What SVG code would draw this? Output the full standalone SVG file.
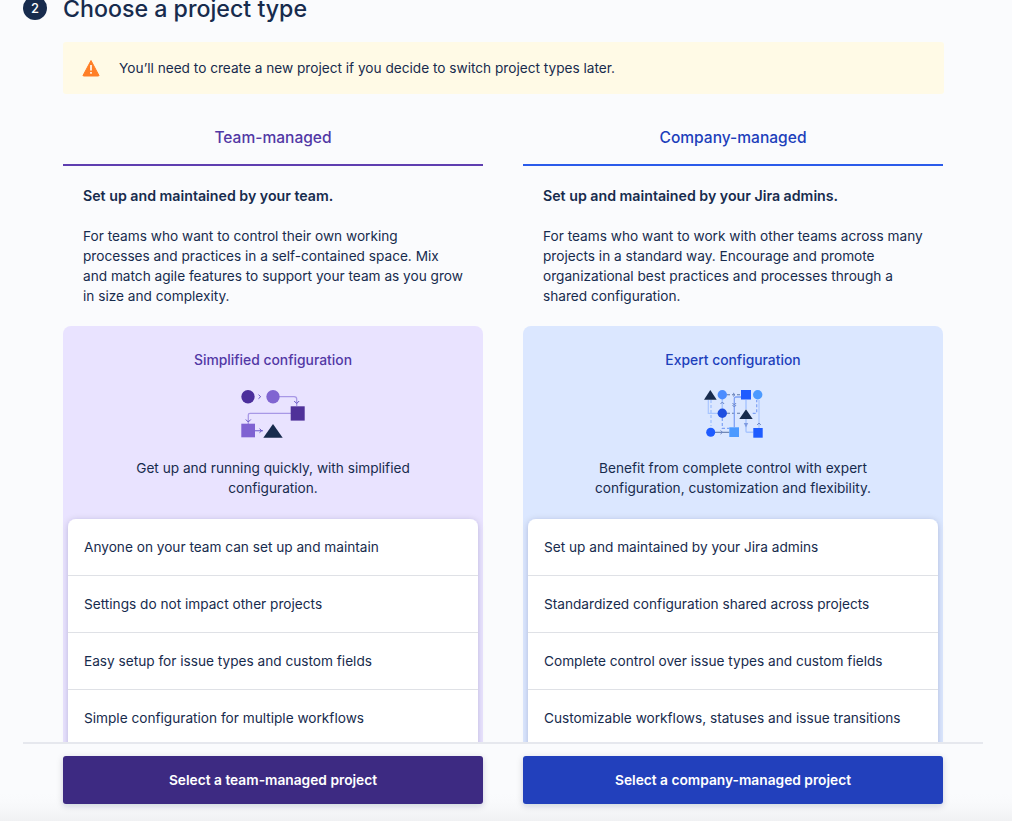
<svg xmlns="http://www.w3.org/2000/svg" width="1012" height="821" viewBox="0 0 1012 821">
<style>
text{font-family:Inter,"Liberation Sans",sans-serif;fill:#172B4D;font-size:13.65px}
.c{text-anchor:middle}
.b{font-weight:600;font-size:14.2px}
.sep{stroke:#DFE1E6;stroke-width:1}
.tm{fill:#5238A5}
.cm{fill:#1D3FBB}
.tab{font-size:15.55px;font-weight:500}
.cfg{font-size:13.87px;font-weight:500}
.btn{fill:#fff;font-weight:600;text-anchor:middle;font-size:13.75px}
.dash{stroke-dasharray:3 2}
</style>
<defs>
<linearGradient id="fade" x1="0" y1="0" x2="0" y2="1"><stop offset="0" stop-color="#FAFBFD" stop-opacity="0"/><stop offset="1" stop-color="#F0F1F3"/></linearGradient>
<filter id="sh" x="-5%" y="-5%" width="110%" height="110%"><feDropShadow dx="0" dy="1" stdDeviation="3" flood-color="#091E42" flood-opacity=".2"/></filter>
<filter id="bs" x="-5%" y="-10%" width="110%" height="130%"><feDropShadow dx="0" dy="2" stdDeviation="3" flood-color="#091E42" flood-opacity=".18"/></filter>
<clipPath id="cut"><rect x="0" y="0" width="1012" height="743"/></clipPath>
</defs>
<rect width="1012" height="821" fill="#FAFBFD"/>
<rect y="790" width="1012" height="31" fill="url(#fade)"/>
<g id="heading">
<circle cx="35" cy="8" r="12" fill="#172B4D"/>
<text x="35" y="13" class="c" style="fill:#fff;font-size:13px;font-weight:500">2</text>
<text x="63" y="17" style="font-size:23.2px;font-weight:500">Choose a project type</text>
</g>
<g id="warning">
<rect x="63" y="42" width="881" height="52" rx="3" fill="#FFFAE6"/>
<path d="M91 60.500 L99 75.500 Q99 76 98 76 H84 Q83 76 83 75.500 Z" fill="#FF7F27" stroke="#FF7F27" stroke-linejoin="round"/>
<rect x="90.200" y="65" width="1.600" height="5.500" fill="#fff"/><rect x="90.200" y="72" width="1.600" height="1.700" fill="#fff"/>
<text x="119" y="73">You’ll need to create a new project if you decide to switch project types later.</text>
</g>
<g id="team-managed" clip-path="url(#cut)">
<text x="273" y="143" class="c tm tab">Team-managed</text>
<rect x="63" y="164" width="420" height="2" fill="#5E3EB0"/>
<text x="83" y="201" class="b">Set up and maintained by your team.</text>
<text x="83" y="241">For teams who want to control their own working</text>
<text x="83" y="261">processes and practices in a self-contained space. Mix</text>
<text x="83" y="281">and match agile features to support your team as you grow</text>
<text x="83" y="301">in size and complexity.</text>
<rect x="63" y="326" width="420" height="440" rx="8" fill="#E9E3FF"/>
<text x="273" y="365" class="c tm cfg">Simplified configuration</text>
<g id="team-icon" fill="none">
<path d="M279 396.700 H294 Q296.700 396.700 296.700 399 V406 M291 413.300 H250 Q248.300 413.300 248.300 415 V424" stroke="#A898E6" stroke-width="1.300"/>
<path d="M255 430.700 H263" stroke="#8777D9" stroke-width="1.300"/>
<path d="M258.500 394.700 l2.200 2 l-2.200 2 M294.200 401 l2.500 2.500 l2.500 -2.500 M245.800 419.500 l2.500 2.500 l2.500 -2.500 M259.500 428.700 l2.200 2 l-2.200 2" stroke="#6554C0" stroke-width="1"/>
<circle cx="248" cy="396.700" r="6.700" fill="#4C2F9C"/>
<circle cx="273" cy="396.700" r="6.700" fill="#8065D1"/>
<rect x="290.700" y="406.300" width="14" height="14.300" fill="#4F3199"/>
<rect x="241.300" y="423.700" width="13.700" height="13.600" fill="#7F62D2"/>
<path d="M273 424 L282.700 437.700 H263.300 Z" fill="#172B4D"/>
</g>
<text x="273" y="473" class="c">Get up and running quickly, with simplified</text>
<text x="273" y="493" class="c">configuration.</text>
<rect x="68" y="519" width="410" height="260" rx="8" fill="#fff" filter="url(#sh)"/>
<text x="84" y="552">Anyone on your team can set up and maintain</text>
<line x1="68" x2="478" y1="575.500" y2="575.500" class="sep"/>
<text x="84" y="609">Settings do not impact other projects</text>
<line x1="68" x2="478" y1="632.500" y2="632.500" class="sep"/>
<text x="84" y="666">Easy setup for issue types and custom fields</text>
<line x1="68" x2="478" y1="689.500" y2="689.500" class="sep"/>
<text x="84" y="723">Simple configuration for multiple workflows</text>
</g>
<g id="company-managed" clip-path="url(#cut)">
<text x="733" y="143" class="c cm tab">Company-managed</text>
<rect x="523" y="164" width="420" height="2" fill="#2A5BEA"/>
<text x="543" y="201" class="b">Set up and maintained by your Jira admins.</text>
<text x="543" y="241">For teams who want to work with other teams across many</text>
<text x="543" y="261">projects in a standard way. Encourage and promote</text>
<text x="543" y="281">organizational best practices and processes through a</text>
<text x="543" y="301">shared configuration.</text>
<rect x="523" y="326" width="420" height="440" rx="8" fill="#DBE7FF"/>
<text x="733" y="365" class="c cm cfg">Expert configuration</text>
<g id="company-icon" fill="none">
<path d="M708.300 400 V413.300 H718 M759 400 V428" stroke="#A9C6FF" stroke-width="1.200"/>
<path d="M722.300 399 V409 M746 400 V409 M746 419 V431 Q746 432.300 748 432.300 H753.300" stroke="#A9C6FF" stroke-width="1.500"/>
<path d="M711 400 V426" stroke="#A9C6FF" stroke-width="1.500" class="dash"/>
<path d="M752.700 413.300 H756.700 V400 M722.300 418 V428.300 H729.300" stroke="#7FA2F5" stroke-width="1.200" class="dash"/>
<path d="M727 394.700 H741 M727 413.300 H741" stroke="#5F78A8" stroke-width="1.100" class="dash"/>
<path d="M741 397 H736 Q734.300 397 734.300 399 V427.300" stroke="#7FA2F5" stroke-width="1.300"/>
<path d="M715 432.300 H729.300" stroke="#5F78A8" stroke-width="1.100"/>
<path d="M722.300 402 l-1.800 2 M722.300 402 l1.800 2 M732.500 403 l1.800 2 l1.800 -2 M732.500 405 l1.800 2 l1.800 -2 M735 394.700 l-2 -1.800 M735 394.700 l-2 1.800 M720.500 432.300 m0 -1.800 l2 1.800 l-2 1.800 M759 423 l-1.800 2 M759 423 l1.800 2" stroke="#6C87C8" stroke-width="1"/>
<path d="M743.800 423 h4.400 l-2.200 4.500 Z" fill="#7F9BE0"/>
<path d="M710.300 390 L716.700 399.700 H704 Z" fill="#172B4D"/>
<circle cx="722.300" cy="394.700" r="4.700" fill="#4C8DFF"/>
<rect x="741" y="390" width="10" height="9.500" fill="#1F5CFF"/>
<circle cx="757.700" cy="394.700" r="4.700" fill="#4C9AFF"/>
<circle cx="722.300" cy="413.300" r="4.700" fill="#1F4FE0"/>
<path d="M746 409.300 L752.700 419 H739.300 Z" fill="#172B4D"/>
<circle cx="710.700" cy="432.300" r="4.500" fill="#1F5CFF"/>
<rect x="729.300" y="427.300" width="9.700" height="9.700" fill="#4C9AFF"/>
<rect x="753.300" y="428" width="9.400" height="9.700" fill="#1F5CFF"/>
</g>
<text x="733" y="473" class="c">Benefit from complete control with expert</text>
<text x="733" y="493" class="c">configuration, customization and flexibility.</text>
<rect x="528" y="519" width="410" height="260" rx="8" fill="#fff" filter="url(#sh)"/>
<text x="544" y="552">Set up and maintained by your Jira admins</text>
<line x1="528" x2="938" y1="575.500" y2="575.500" class="sep"/>
<text x="544" y="609">Standardized configuration shared across projects</text>
<line x1="528" x2="938" y1="632.500" y2="632.500" class="sep"/>
<text x="544" y="666">Complete control over issue types and custom fields</text>
<line x1="528" x2="938" y1="689.500" y2="689.500" class="sep"/>
<text x="544" y="723">Customizable workflows, statuses and issue transitions</text>
</g>
<rect id="footer-rule" x="23" y="742" width="960" height="2" fill="#E6E8EE"/>
<g id="team-button">
<rect x="63" y="756" width="420" height="48" rx="3" fill="#3E2A82" filter="url(#bs)"/>
<text x="273" y="785" class="btn">Select a team-managed project</text>
</g>
<g id="company-button">
<rect x="523" y="756" width="420" height="48" rx="3" fill="#2040BC" filter="url(#bs)"/>
<text x="733" y="785" class="btn">Select a company-managed project</text>
</g>
</svg>
